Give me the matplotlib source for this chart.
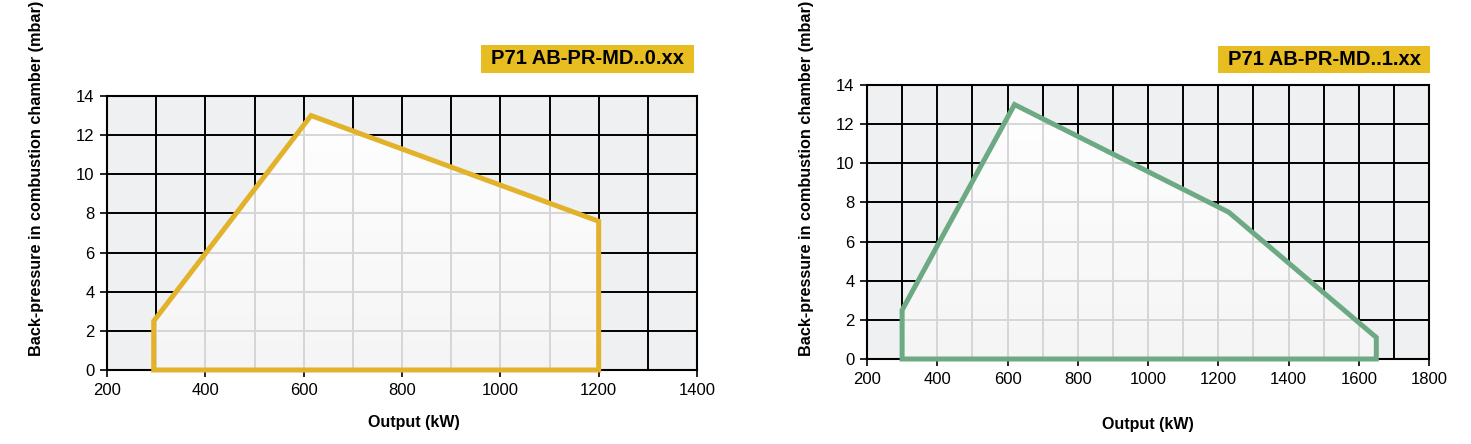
import numpy as np
from matplotlib import pyplot as plt
from matplotlib.colors import LinearSegmentedColormap
from matplotlib.patches import Polygon, Rectangle

plt.rcParams['font.family'] = ['Liberation Sans', 'DejaVu Sans']

# working field of the two burner versions
left_kw = [295, 295, 615, 1200, 1200]
left_mbar = [0, 2.5, 13, 7.6, 0]
right_kw = [300, 300, 620, 1230, 1650, 1650]
right_mbar = [0, 2.5, 13, 7.5, 1.1, 0]

left_xticks = [200, 400, 600, 800, 1000, 1200, 1400]
right_xticks = [200, 400, 600, 800, 1000, 1200, 1400, 1600, 1800]
yticks = [0, 2, 4, 6, 8, 10, 12, 14]

left_title = 'P71 AB-PR-MD..0.xx'
right_title = 'P71 AB-PR-MD..1.xx'
ylabel = 'Back-pressure in combustion chamber (mbar)'
xlabel = 'Output (kW)'

fill_cmap = LinearSegmentedColormap.from_list('fill', ['#ffffff', '#f5f5f5'])


def draw_panel(ax, kw, mbar, xticks, color, labelpad):
    xmin, xmax = xticks[0], xticks[-1]
    ax.set_facecolor('#eef0f1')

    # black grid on the gray field
    for x in np.arange(xmin, xmax + 1, 100):
        ax.axvline(x, color='black', lw=1.4, zorder=1)
    for y in yticks:
        ax.axhline(y, color='black', lw=1.4, zorder=1)

    poly = Polygon(np.column_stack([kw, mbar]), closed=True,
                   facecolor='none', edgecolor='none')
    ax.add_patch(poly)

    # light gradient inside the field (white on top, gray at the bottom)
    grad = np.linspace(0, 1, 200).reshape(-1, 1) * np.ones((1, 50))
    im = ax.imshow(grad, extent=[xmin, xmax, 0, 14], origin='upper',
                   aspect='auto', cmap=fill_cmap, zorder=2)
    im.set_clip_path(poly)

    # light grid inside the field
    for x in np.arange(xmin, xmax + 1, 100):
        ln = ax.axvline(x, color='#d6d6d6', lw=1.4, zorder=3)
        ln.set_clip_path(poly)
    for y in yticks:
        ln = ax.axhline(y, color='#d6d6d6', lw=1.4, zorder=3)
        ln.set_clip_path(poly)

    ax.add_patch(Polygon(np.column_stack([kw, mbar]), closed=True,
                         facecolor='none', edgecolor=color, lw=3.6,
                         joinstyle='miter', zorder=7, clip_on=False))

    ax.set_xlim(xmin, xmax)
    ax.set_ylim(0, 14)
    ax.set_xticks(xticks)
    ax.set_yticks(yticks)
    ax.tick_params(direction='out', length=5, width=1.2, colors='black',
                   labelsize=12, pad=4)
    for s in ax.spines.values():
        s.set_linewidth(1.5)
        s.set_zorder(6)
    ax.set_xlabel(xlabel, fontsize=11.5, fontweight='bold', labelpad=labelpad)


fig = plt.figure(figsize=(14.71, 4.44), dpi=100)

ax1 = fig.add_axes([107 / 1471, 74 / 444, 590 / 1471, 274 / 444])
draw_panel(ax1, left_kw, left_mbar, left_xticks, '#e2b22a', 13)
ax1.xaxis.set_label_coords(0.52, -0.165)
ax2 = fig.add_axes([867 / 1471, 85 / 444, 562 / 1471, 274 / 444])
draw_panel(ax2, right_kw, right_mbar, right_xticks, '#6daa84', 22)

fig.text(37 / 1471, 1 - 178 / 444, ylabel, rotation=90, ha='center',
         va='center', fontsize=11.7, fontweight='bold')
fig.text(806 / 1471, 1 - 178 / 444, ylabel, rotation=90, ha='center',
         va='center', fontsize=11.7, fontweight='bold')

# yellow title boxes
for x0, x1, y0, y1, txt in [(481, 694, 45, 73, left_title),
                            (1218, 1430, 46, 73, right_title)]:
    fig.patches.append(Rectangle((x0 / 1471, 1 - y1 / 444),
                                 (x1 - x0) / 1471, (y1 - y0) / 444,
                                 transform=fig.transFigure,
                                 facecolor='#e8bd22', edgecolor='none'))
    fig.text((x0 + x1) / 2 / 1471, 1 - (y0 + y1) / 2 / 444, txt,
             ha='center', va='center', fontsize=14.5, fontweight='bold')

fig.savefig('out.png', dpi=100)
